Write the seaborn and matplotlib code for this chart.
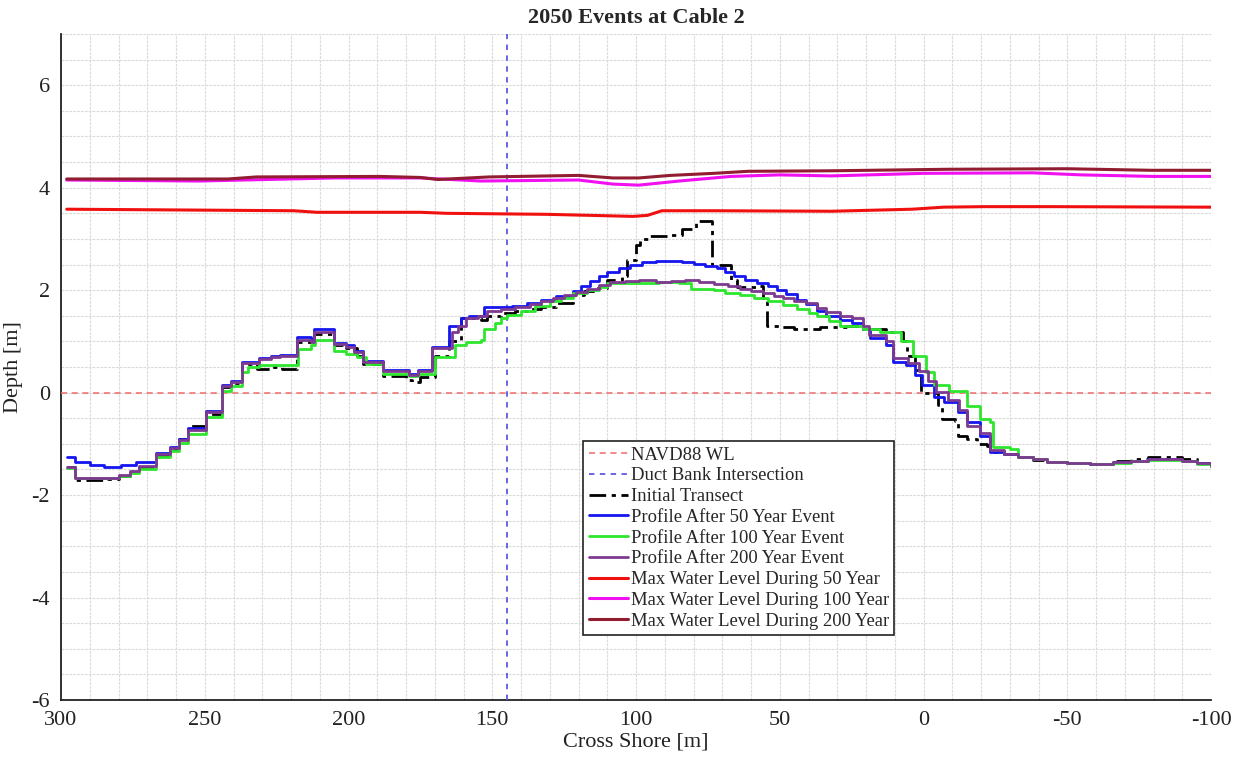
import matplotlib
matplotlib.use("Agg")
import matplotlib.pyplot as plt
from matplotlib.ticker import MultipleLocator
import pandas as pd
import seaborn as sns

# ---------------- data ----------------
navd88_level = 0.0
duct_bank_x = 145.0

# Bed profiles, stored as stepwise levels: each y holds from its x to the next x
initial_x = [298, 295, 285, 280, 276, 273, 267, 262, 259, 256,
             249.5, 244, 241, 237, 232, 226, 223, 218, 213, 212,
             205, 201, 197, 195, 188, 180, 178, 175, 170, 165,
             161, 154, 152, 147, 142, 138, 133, 128, 122, 118,
             114, 110, 105, 103, 100, 98.5, 96, 88, 84, 79,
             73.5, 67, 65, 58, 55.8, 54.4, 50, 45, 36, 27,
             21, 13, 7, 5.8, 3, 1, -5, -6.5, -11, -12,
             -15, -18.5, -22, -23, -28, -33, -38, -43, -50, -58,
             -66, -72, -78, -84, -90, -95, -100]
initial_y = [-1.45, -1.7, -1.68, -1.62, -1.55, -1.45, -1.22, -1.1, -0.9, -0.66,
             -0.42, 0.1, 0.18, 0.55, 0.47, 0.5, 0.47, 0.98, 0.95, 1.15,
             0.93, 0.88, 0.72, 0.56, 0.33, 0.25, 0.2, 0.3, 0.72, 1.0,
             1.45, 1.41, 1.5, 1.55, 1.6, 1.63, 1.68, 1.75, 1.9, 1.98,
             2.05, 2.19, 2.27, 2.58, 2.88, 3.0, 3.05, 3.07, 3.2, 3.35,
             2.49, 2.19, 2.07, 2.09, 1.84, 1.31, 1.29, 1.25, 1.29, 1.31,
             1.25, 1.19, 1.0, 0.72, 0.45, 0.0, -0.25, -0.52, -0.55, -0.84,
             -0.9, -1.0, -1.04, -1.16, -1.2, -1.26, -1.31, -1.35, -1.38, -1.39,
             -1.34, -1.29, -1.25, -1.26, -1.3, -1.37, -1.42]

p50_x = [298, 295, 290, 285, 279, 274, 267, 262, 259, 256,
         249.5, 244, 241, 237, 231, 227, 224, 218, 213, 212,
         205, 201, 198, 195, 188, 179, 176, 171, 165, 161,
         158, 153, 148, 143, 138, 133, 128, 122, 119, 116,
         113, 110, 106, 102, 98, 93, 88, 84, 80, 76,
         72, 69, 66, 62, 58, 54, 51, 48, 44, 41,
         37, 34, 29, 25, 21, 18.5, 13, 10.5, 6, 3,
         0.5, -3.5, -7, -12, -15, -19.5, -23, -28, -33, -38,
         -43, -50, -58, -66, -72, -78, -84, -90, -95, -100]
p50_y = [-1.25, -1.35, -1.41, -1.45, -1.42, -1.36, -1.18, -1.06, -0.9, -0.7,
         -0.36, 0.14, 0.22, 0.6, 0.68, 0.72, 0.74, 1.08, 1.04, 1.25,
         0.97, 0.92, 0.82, 0.62, 0.44, 0.36, 0.44, 0.9, 1.3, 1.45,
         1.5, 1.68, 1.67, 1.7, 1.74, 1.8, 1.88, 1.98, 2.08, 2.18,
         2.27, 2.36, 2.44, 2.5, 2.55, 2.57, 2.57, 2.55, 2.52, 2.48,
         2.44, 2.35, 2.28, 2.2, 2.14, 2.08, 2.0, 1.92, 1.8, 1.72,
         1.6, 1.5, 1.42, 1.36, 1.25, 1.06, 0.92, 0.6, 0.53, 0.35,
         0.14, -0.08, -0.18, -0.38, -0.57, -0.84, -1.16, -1.2, -1.25, -1.3,
         -1.35, -1.38, -1.39, -1.36, -1.33, -1.3, -1.3, -1.33, -1.38, -1.43]

p100_x = [298, 295, 280, 276, 273, 267, 262, 259, 256, 249.5,
          244, 241, 237, 235, 231, 217.5, 213, 211.5, 205, 201,
          197, 194, 188, 179, 176, 170, 163, 159, 154, 153,
          149, 147, 145, 140, 135, 130, 126, 122, 117, 113,
          110, 104, 99, 92, 85, 81, 73, 69, 64, 59,
          54, 49, 44, 40, 37, 33, 29, 21, 15, 8,
          3.5, -1, -3.5, -9, -15, -19.5, -23, -24, -30, -33,
          -38, -43, -50, -58, -66, -72, -78, -84, -90, -95,
          -100]
p100_y = [-1.48, -1.66, -1.62, -1.56, -1.49, -1.25, -1.13, -0.98, -0.8, -0.48,
          0.04, 0.12, 0.41, 0.5, 0.53, 0.86, 0.92, 1.02, 0.82, 0.76,
          0.7, 0.55, 0.37, 0.33, 0.37, 0.7, 0.92, 0.98, 1.02, 1.25,
          1.35, 1.45, 1.51, 1.6, 1.7, 1.78, 1.85, 1.94, 2.0, 2.07,
          2.13, 2.13, 2.14, 2.15, 2.13, 2.03, 2.0, 1.95, 1.9, 1.84,
          1.78, 1.71, 1.64, 1.56, 1.49, 1.4, 1.31, 1.25, 1.19, 1.0,
          0.72, 0.41, 0.14, 0.04, -0.27, -0.51, -0.57, -1.06, -1.1, -1.25,
          -1.3, -1.35, -1.38, -1.4, -1.37, -1.34, -1.31, -1.31, -1.34, -1.39,
          -1.44]

p200_x = [298, 295, 280, 276, 273, 267, 262, 259, 256, 249.5,
          244, 241, 237, 231, 227, 224, 218, 213, 212, 205,
          201, 198, 195, 188, 179, 176, 171, 164, 162, 159,
          155, 152, 147, 142, 137, 133, 129, 125, 121, 117,
          113, 109, 104, 99, 93, 88, 83, 78, 73, 68,
          64, 60, 56, 52, 49, 45, 41, 37, 34, 29,
          25, 21, 19, 13, 10.5, 5.5, 1.5, -1.5, -4.5, -8.5,
          -12.5, -15, -19.5, -23, -28, -33, -38, -43, -50, -58,
          -66, -72, -78, -84, -90, -95, -100]
p200_y = [-1.45, -1.66, -1.6, -1.53, -1.43, -1.2, -1.08, -0.92, -0.72, -0.38,
          0.12, 0.2, 0.58, 0.66, 0.7, 0.72, 1.02, 0.98, 1.18, 0.95,
          0.9, 0.8, 0.6, 0.42, 0.34, 0.42, 0.88, 1.18, 1.3, 1.45,
          1.5, 1.6, 1.63, 1.68, 1.72, 1.78, 1.84, 1.9, 1.97, 2.03,
          2.1, 2.16, 2.18, 2.19, 2.16, 2.18, 2.19, 2.16, 2.12, 2.08,
          2.03, 1.98, 1.94, 1.89, 1.84, 1.79, 1.74, 1.66, 1.58, 1.5,
          1.45, 1.31, 1.12, 1.0, 0.67, 0.57, 0.42, 0.22, 0.02, -0.14,
          -0.34, -0.66, -0.78, -1.12, -1.19, -1.25, -1.3, -1.35, -1.38, -1.39,
          -1.36, -1.33, -1.3, -1.3, -1.33, -1.38, -1.43]

# Maximum water levels during each event
wl50_x = [298, 219, 211, 175, 166, 131, 101, 96, 91, 73, 32, 4, -7, -21, -44, -100]
wl50_y = [3.58, 3.55, 3.52, 3.52, 3.5, 3.48, 3.44, 3.46, 3.55, 3.55, 3.54, 3.58, 3.62, 3.63, 3.63, 3.62]
wl100_x = [298, 252, 205, 175, 154, 120, 108, 99, 85, 67, 50, 32, 0, -38, -55, -80, -100]
wl100_y = [4.15, 4.13, 4.19, 4.19, 4.13, 4.15, 4.07, 4.05, 4.13, 4.22, 4.25, 4.23, 4.28, 4.29, 4.25, 4.22, 4.22]
wl200_x = [298, 242, 232, 189, 175, 169, 151, 120, 108, 99, 88, 73, 61, 32, -9, -50, -79, -100]
wl200_y = [4.17, 4.17, 4.21, 4.22, 4.2, 4.16, 4.21, 4.24, 4.19, 4.19, 4.24, 4.28, 4.32, 4.33, 4.36, 4.37, 4.34, 4.34]

x_ticks = [300, 250, 200, 150, 100, 50, 0, -50, -100]
y_ticks = [-6, -4, -2, 0, 2, 4, 6]

# ---------------- style ----------------
sns.set_style("white")
plt.rcParams["font.family"] = ["Liberation Serif", "DejaVu Serif"]
plt.rcParams["axes.unicode_minus"] = False

fig = plt.figure(figsize=(12.39, 7.59), dpi=100)
ax = fig.add_axes([61 / 1239, 59 / 759, 1150 / 1239, 666 / 759])

ax.axhline(navd88_level, color="#f06a6a", lw=1.1, ls=(0, (4, 3)), label="NAVD88 WL", zorder=3)
ax.axvline(duct_bank_x, color="#5a5ae0", lw=1.3, ls=(0, (3, 3)), label="Duct Bank Intersection", zorder=3)

profiles = [
    (initial_x, initial_y, "black", "Initial Transect", (0, (6, 2, 1.5, 2)), 2.0),
    (p50_x, p50_y, "#1515f0", "Profile After 50 Year Event", "-", 2.0),
    (p100_x, p100_y, "#2ee62e", "Profile After 100 Year Event", "-", 2.0),
    (p200_x, p200_y, "#7e3a90", "Profile After 200 Year Event", "-", 2.0),
]
for xs, ys, col, lab, ls, lw in profiles:
    df = pd.DataFrame({"x": xs, "y": ys})
    sns.lineplot(data=df, x="x", y="y", sort=False, estimator=None, color=col,
                 lw=lw, ls=ls, drawstyle="steps-post", label=lab, ax=ax, zorder=4)

levels = [
    (wl50_x, wl50_y, "#f01010", "Max Water Level During 50 Year"),
    (wl100_x, wl100_y, "#f010f0", "Max Water Level During 100 Year"),
    (wl200_x, wl200_y, "#921c30", "Max Water Level During 200 Year"),
]
for xs, ys, col, lab in levels:
    df = pd.DataFrame({"x": xs, "y": ys})
    sns.lineplot(data=df, x="x", y="y", sort=False, estimator=None, color=col,
                 lw=2.2, label=lab, ax=ax, zorder=4)

# ---------------- axes ----------------
ax.set_xlim(300, -100)
ax.set_ylim(-6, 7)
ax.set_xticks(x_ticks)
ax.set_yticks(y_ticks)
ax.xaxis.set_minor_locator(MultipleLocator(10))
ax.yaxis.set_minor_locator(MultipleLocator(0.5))
ax.grid(which="both", color="#dadada", lw=0.8, ls=(0, (2.5, 1)), zorder=0)
ax.set_axisbelow(True)
ax.tick_params(which="major", direction="in", length=6, width=1.2, color="black",
               labelsize=16, pad=8, labelcolor="#222222")
ax.tick_params(which="minor", length=0)

for side in ("top", "right"):
    ax.spines[side].set_visible(False)
for side in ("left", "bottom"):
    ax.spines[side].set_color("#222222")
    ax.spines[side].set_linewidth(1.3)

ax.set_xlabel("Cross Shore [m]", fontsize=16, color="#222222", labelpad=2)
ax.set_ylabel("Depth [m]", fontsize=16, color="#222222")
ax.yaxis.set_label_coords(-0.033, 0.5)
ax.set_title("2050 Events at Cable 2", fontsize=16, fontweight="bold", pad=8)

handles, labels = ax.get_legend_handles_labels()
leg = ax.legend(handles, labels, loc="upper left", bbox_to_anchor=(0.454, 0.389),
                fontsize=13.4, frameon=True, fancybox=False, framealpha=1,
                edgecolor="#222222", handlelength=2.1, handletextpad=0.15,
                labelspacing=0.2, borderpad=0.3, borderaxespad=0)
leg.get_frame().set_linewidth(1.2)

fig.savefig("out.png", dpi=100)
